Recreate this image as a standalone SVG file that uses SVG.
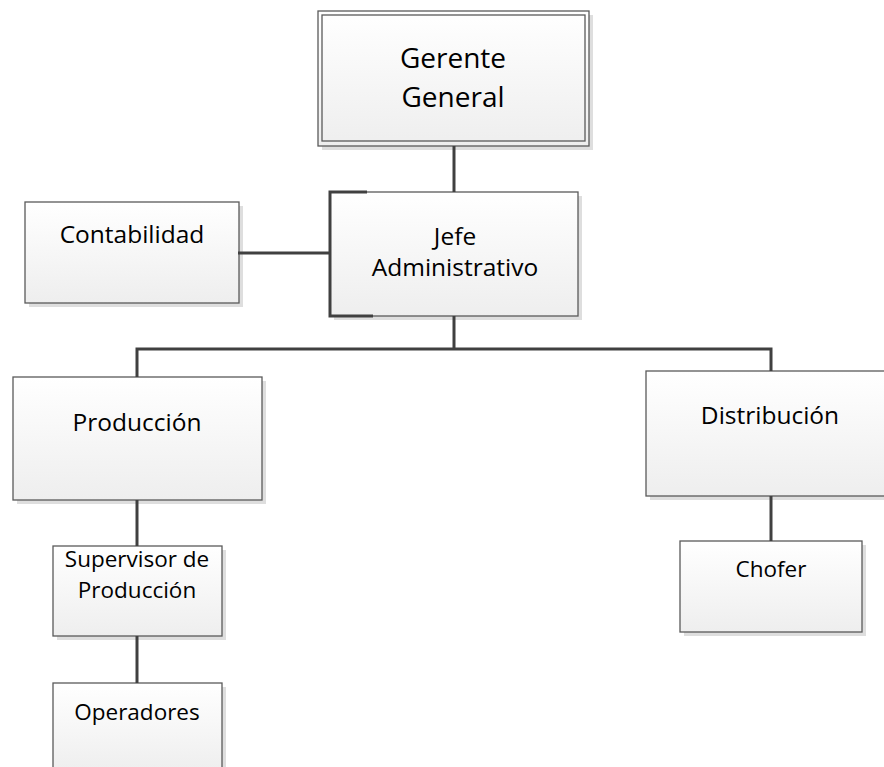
<svg xmlns="http://www.w3.org/2000/svg" width="884" height="767" viewBox="0 0 884 767">
  <defs>
    <linearGradient id="boxFill" x1="0" y1="0" x2="0" y2="1">
      <stop offset="0" stop-color="#ffffff"/>
      <stop offset="1" stop-color="#eeeeee"/>
    </linearGradient>
  </defs>
  <style>
    .shadow { fill: #dedede; }
    .box { fill: url(#boxFill); stroke: #5a5a5a; stroke-width: 1.3; }
    .inner { fill: none; stroke: #5a5a5a; stroke-width: 1.3; }
    .conn { fill: none; stroke: #404040; stroke-width: 3; }
    text { font-family: "Open Sans", "Noto Sans", "Liberation Sans", sans-serif; fill: #000; text-anchor: middle; }
    .big { font-size: 28px; }
    .mid { font-size: 24.5px; }
    .small { font-size: 22.5px; }
  </style>
  <rect width="884" height="767" fill="#ffffff"/>

  <g id="gerente-general">
    <rect class="shadow" x="322" y="15" width="271" height="135"/>
    <rect class="box" x="318" y="11" width="271" height="135"/>
    <rect class="inner" x="322" y="15" width="263" height="126"/>
    <text class="big" x="453" y="68">Gerente</text>
    <text class="big" x="453" y="107">General</text>
  </g>

  <g id="contabilidad">
    <rect class="shadow" x="29" y="206" width="214" height="101"/>
    <rect class="box" x="25" y="202" width="214" height="101"/>
    <text class="mid" x="132" y="243">Contabilidad</text>
  </g>

  <g id="jefe-administrativo">
    <rect class="shadow" x="334" y="196" width="248" height="124"/>
    <rect class="box" x="330" y="192" width="248" height="124"/>
    <text class="mid" x="455" y="245">Jefe</text>
    <text class="mid" x="455" y="276">Administrativo</text>
  </g>

  <g id="produccion">
    <rect class="shadow" x="17" y="381" width="249" height="123"/>
    <rect class="box" x="13" y="377" width="249" height="123"/>
    <text class="mid" x="137" y="431">Producción</text>
  </g>

  <g id="distribucion">
    <rect class="shadow" x="650" y="375" width="248" height="125"/>
    <rect class="box" x="646" y="371" width="248" height="125"/>
    <text class="mid" x="770" y="424">Distribución</text>
  </g>

  <g id="supervisor-produccion">
    <rect class="shadow" x="57" y="550" width="169" height="90"/>
    <rect class="box" x="53" y="546" width="169" height="90"/>
    <text class="small" x="137" y="567">Supervisor de</text>
    <text class="small" x="137" y="598">Producción</text>
  </g>

  <g id="operadores">
    <rect class="shadow" x="57" y="687" width="169" height="90"/>
    <rect class="box" x="53" y="683" width="169" height="90"/>
    <text class="small" x="137" y="720">Operadores</text>
  </g>

  <g id="chofer">
    <rect class="shadow" x="684" y="545" width="182" height="91"/>
    <rect class="box" x="680" y="541" width="182" height="91"/>
    <text class="small" x="771" y="577">Chofer</text>
  </g>

  <!-- connectors, drawn over the box edges they attach to -->
  <g id="connectors">
    <line class="conn" x1="454" y1="146" x2="454" y2="192"/>
    <line class="conn" x1="238" y1="253" x2="330" y2="253"/>
    <path class="conn" d="M367,192 H330 V316 H373"/>
    <path class="conn" d="M454,316 V349 M137,377 V349 H771 V371"/>
    <line class="conn" x1="137" y1="500" x2="137" y2="546"/>
    <line class="conn" x1="137" y1="636" x2="137" y2="683"/>
    <line class="conn" x1="771" y1="496" x2="771" y2="541"/>
  </g>
</svg>
